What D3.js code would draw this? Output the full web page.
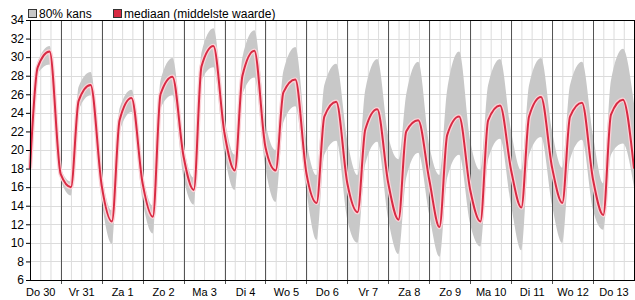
<!DOCTYPE html>
<html>
<head>
<meta charset="utf-8">
<script src="https://cdn.jsdelivr.net/npm/d3@7"></script>
<style>
  body { margin: 0; background: #fff; }
  svg text { font-family: "Liberation Sans", Arial, sans-serif; fill: #000; }
  .grid line { stroke: #dcdcdc; stroke-width: 1; }
  .day line { stroke: #555; stroke-width: 1; }
  .axis path, .axis line { stroke: #000; }
  .yaxis text { font-size: 12px; }
  .xaxis text { font-size: 11px; }
  .legend text { font-size: 12px; }
</style>
</head>
<body>
<svg id="chart" width="635" height="300"></svg>
<script>
// dagen op de x-as
let days = ['Do 30','Vr 31','Za 1','Zo 2','Ma 3','Di 4','Wo 5','Do 6','Vr 7','Za 8','Zo 9','Ma 10','Di 11','Wo 12','Do 13'];
// uren binnen een dag waarop de waarden gelezen zijn
let dayHours = [6, 10.5, 17.5, 24];
let yTicks = [6,8,10,12,14,16,18,20,22,24,26,28,30,32,34];

// mediaan (per dag: 06u, 10u30, 17u30, 24u)
let median = [
  18.0, 28.9, 30.6, 17.4,
  16.0, 25.3, 27.0, 16.2,
  12.3, 23.2, 25.6, 16.4,
  12.8, 26.0, 27.9, 19.3,
  15.7, 29.0, 31.2, 21.8,
  17.8, 28.0, 30.7, 20.3,
  17.8, 26.2, 27.6, 17.5,
  14.3, 23.6, 25.2, 16.4,
  13.3, 22.2, 24.4, 16.4,
  12.5, 22.0, 23.2, 16.8,
  11.7, 21.6, 23.6, 15.7,
  12.3, 23.2, 24.8, 17.8,
  13.8, 23.6, 25.7, 18.1,
  14.3, 23.6, 25.1, 16.8,
  13.0, 23.8, 25.4, 18.0
];
// bovengrens 80% kans
let upper = [
  18.5, 29.5, 31.2, 18.0,
  16.6, 26.8, 28.4, 17.5,
  13.5, 24.5, 26.5, 17.5,
  14.0, 27.5, 29.9, 20.5,
  17.0, 30.5, 33.1, 23.5,
  19.5, 30.0, 32.9, 23.0,
  20.0, 28.5, 31.1, 21.0,
  17.3, 27.0, 29.3, 21.0,
  17.3, 26.5, 29.8, 21.5,
  19.0, 26.0, 29.5, 20.5,
  17.3, 26.5, 30.6, 21.0,
  17.8, 27.0, 29.8, 22.0,
  17.8, 27.0, 29.9, 22.0,
  18.1, 27.0, 29.5, 21.5,
  16.4, 27.5, 30.9, 25.0
];
// ondergrens 80% kans
let lower = [
  17.5, 28.2, 29.2, 16.8,
  15.1, 24.3, 25.9, 14.5,
   9.9, 22.0, 24.1, 14.5,
  11.0, 24.5, 25.9, 17.0,
  14.1, 27.5, 28.9, 19.5,
  15.7, 26.0, 27.8, 18.0,
  14.4, 23.0, 24.7, 15.5,
  10.3, 19.5, 21.0, 12.5,
  10.0, 18.5, 20.9, 12.5,
   8.8, 17.0, 19.7, 13.0,
   8.5, 17.0, 19.5, 12.0,
   9.6, 19.0, 21.2, 14.0,
   9.2, 19.5, 21.4, 14.0,
  10.0, 19.0, 21.1, 13.5,
  11.4, 19.5, 20.7, 16.0
];

let margin = {top: 20, bottom: 20, left: 30, right: 1};
let svgWidth = 635;
let svgHeight = 300;
let width = svgWidth - margin.left - margin.right;
let height = svgHeight - margin.top - margin.bottom;

let data = median.map((m, i) => ({
  h: Math.floor(i / 4) * 24 + dayHours[i % 4],
  med: m,
  hi: upper[i],
  lo: lower[i]
}));

let xScale = d3.scaleLinear().domain([6, days.length * 24]).range([0, width]);
let yScale = d3.scaleLinear().domain([6, 34]).range([height, 0]);

let svg = d3.select('#chart').append('g').attr('transform', `translate(${margin.left},${margin.top})`);

// lichte rasterlijnen
let sixHours = d3.range(12, days.length * 24, 6);
svg.append('g').attr('class', 'grid')
  .selectAll('line').data(sixHours).enter().append('line')
  .attr('x1', d => xScale(d) + 0.5).attr('x2', d => xScale(d) + 0.5)
  .attr('y1', 0).attr('y2', height);
svg.append('g').attr('class', 'grid')
  .selectAll('line').data(yTicks).enter().append('line')
  .attr('x1', 0).attr('x2', width)
  .attr('y1', d => Math.round(yScale(d)) + 0.5).attr('y2', d => Math.round(yScale(d)) + 0.5);

// 80% band
let area = d3.area().curve(d3.curveMonotoneX)
  .x(d => xScale(d.h)).y0(d => yScale(d.lo)).y1(d => yScale(d.hi));
svg.append('path').datum(data).attr('d', area).attr('fill', '#c8c8c8');

// daggrenzen
let dayStarts = d3.range(1, days.length).map(i => i * 24);
svg.append('g').attr('class', 'day')
  .selectAll('line').data(dayStarts).enter().append('line')
  .attr('x1', d => Math.round(xScale(d)) + 0.5).attr('x2', d => Math.round(xScale(d)) + 0.5)
  .attr('y1', 0).attr('y2', height + 4);

// mediaan
let line = d3.line().curve(d3.curveMonotoneX)
  .x(d => xScale(d.h)).y(d => yScale(d.med));
svg.append('path').datum(data).attr('d', line)
  .attr('fill', 'none').attr('stroke', '#fbd3d8').attr('stroke-width', 4.5);
svg.append('path').datum(data).attr('d', line)
  .attr('fill', 'none').attr('stroke', '#d82a43').attr('stroke-width', 2);

// kader
svg.append('rect').attr('x', 0.5).attr('y', 0.5).attr('width', width).attr('height', height)
  .attr('fill', 'none').attr('stroke', '#000');

// assen
svg.append('g').attr('class', 'axis yaxis')
  .call(d3.axisLeft(yScale).tickValues(yTicks).tickSize(4).tickPadding(2).tickFormat(d3.format('d')))
  .call(g => g.select('.domain').remove());
svg.append('g').attr('class', 'axis xaxis')
  .attr('transform', `translate(0,${height})`)
  .call(d3.axisBottom(xScale).tickValues(days.map((d, i) => i * 24 + 12)).tickSize(0).tickPadding(8)
    .tickFormat((d, i) => days[i]))
  .call(g => g.select('.domain').remove());
svg.selectAll('.axis').attr('font-family', null).attr('font-size', null);
svg.selectAll('.axis text').attr('fill', '#000');

// legenda
let legend = d3.select('#chart').append('g').attr('class', 'legend').attr('transform', 'translate(28,8)');
let items = [{label: '80% kans', color: '#c8c8c8', x: 0}, {label: 'mediaan (middelste waarde)', color: '#d82a43', x: 85}];
items.forEach(it => {
  legend.append('rect').attr('x', it.x + 0.5).attr('y', 1.5).attr('width', 8).attr('height', 8)
    .attr('fill', it.color).attr('stroke', '#333');
  legend.append('text').attr('x', it.x + 11).attr('y', 10).text(it.label);
});
</script>
</body>
</html>
